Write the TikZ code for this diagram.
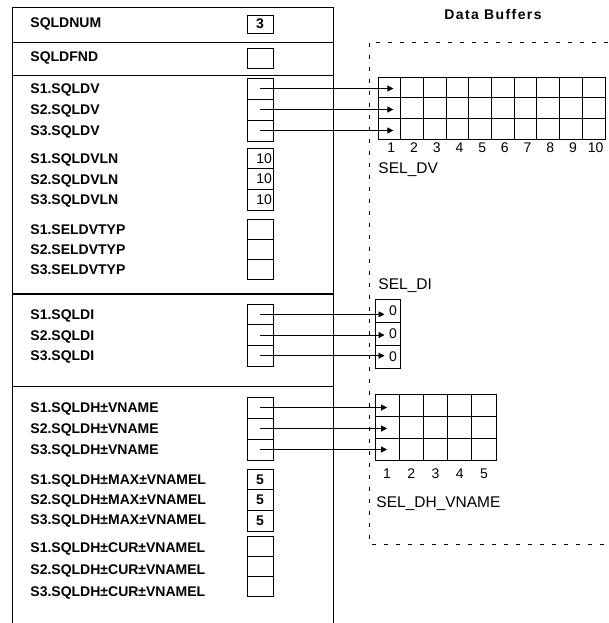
\documentclass[tikz,border=0pt]{standalone}
\usepackage{fontspec}
\setmainfont{Liberation Sans}
\usetikzlibrary{arrows.meta}

\begin{document}
\begin{tikzpicture}[x=1pt,y=-1pt,line width=0.9pt]
\tikzstyle{field}=[anchor=west,inner sep=0pt,text height=10pt,text depth=0pt,font=\bfseries\fontsize{14}{14}\selectfont]
\tikzstyle{slot}=[draw,minimum width=26pt,minimum height=20.7pt,inner sep=1pt,font=\fontsize{14}{14}\selectfont]
\tikzstyle{slotr}=[slot,text width=24pt,align=right]
\tikzstyle{cell}=[draw,minimum width=22.7pt,minimum height=20.7pt,inner sep=0pt]
\tikzstyle{digit}=[inner sep=0pt,text height=10pt,text depth=0pt,font=\fontsize{14}{14}\selectfont]
\tikzstyle{bufname}=[anchor=west,inner sep=0pt,text height=11pt,text depth=0pt,font=\fontsize{15.5}{15.5}\selectfont]
\tikzstyle{ptr}=[-{Triangle[length=6pt,width=6pt]},line width=0.8pt]

\useasboundingbox (0,0) rectangle (608,623);

% descriptor area
\draw (12,623) -- (12,7) -- (333,7) -- (333,623);
\draw (12,42) -- (333,42);
\draw (12,75) -- (333,75);
\draw[line width=2.2pt] (12,294) -- (333,294);
\draw (12,386) -- (333,386);

\node[field] at (30,23) {SQLDNUM};
\node[slot,minimum height=18pt,font=\bfseries\fontsize{14}{14}\selectfont] (sqldnum) at (260,24) {3};
\node[field] at (30,57) {SQLDFND};
\node[slot,minimum height=20pt] (sqldfnd) at (260,58) {};

\foreach \i in {1,2,3} {
  \node[field] at (30,{78+21*(\i-0.5)}) {S\i.SQLDV};
  \node[slot,minimum height=21pt] (sqldv\i) at (260,{78+21*(\i-0.5)}) {};
  \node[field] at (30,{148+20.7*(\i-0.5)}) {S\i.SQLDVLN};
  \node[slotr] (sqldvln\i) at (260,{148+20.7*(\i-0.5)}) {10};
  \node[field] at (30,{219+20*(\i-0.5)}) {S\i.SELDVTYP};
  \node[slot,minimum height=20pt] (seldvtyp\i) at (260,{219+20*(\i-0.5)}) {};
  \node[field] at (30,{304+20.7*(\i-0.5)}) {S\i.SQLDI};
  \node[slot] (sqldi\i) at (260,{304+20.7*(\i-0.5)}) {};
  \node[field] at (30,{397+21*(\i-0.5)}) {S\i.SQLDH±VNAME};
  \node[slot,minimum height=21pt] (sqldhv\i) at (260,{397+21*(\i-0.5)}) {};
  \node[field] at (30,{469+20.3*(\i-0.5)}) {S\i.SQLDH±MAX±VNAMEL};
  \node[slot,font=\bfseries\fontsize{14}{14}\selectfont] (sqldhmax\i) at (260,{469+20.7*(\i-0.5)}) {5};
  \node[field] at (30,{536+22*(\i-0.5)}) {S\i.SQLDH±CUR±VNAMEL};
  \node[slot,minimum height=20.3pt] (sqldhcur\i) at (260,{536+20.3*(\i-0.5)}) {};
}

% data buffers
\node[font=\bfseries\fontsize{14}{14}\selectfont\addfontfeature{LetterSpace=10}] (title) at (493,14) {Data Buffers};
\draw[dash pattern=on 4pt off 8pt] (608,42) -- (369,42) -- (369,544) -- (608,544);

\foreach \r in {1,2,3}
  \foreach \c in {1,...,10}
    \node[cell] (seldv\r-\c) at ({378+22.7*(\c-0.5)},{77+20.7*(\r-0.5)}) {};
\foreach \c in {1,...,10}
  \node[digit] at ({380+22.7*(\c-0.5)},147) {\c};
\node[bufname] (seldv) at (378,168) {SEL\_DV};

\node[bufname] (seldi) at (378,284) {SEL\_DI};
\foreach \i in {1,2,3} {
  \node[cell,minimum width=25pt,minimum height=23pt] (seldi\i) at (387.5,{299+23*(\i-0.5)}) {};
  \node[digit,anchor=east] at ([xshift=-3pt]seldi\i.east) {0};
}

\foreach \r in {1,2,3}
  \foreach \c in {1,...,5}
    \node[cell,minimum width=24.2pt,minimum height=22.3pt] (seldh\r-\c) at ({375+24.2*(\c-0.5)},{394+22.3*(\r-0.5)}) {};
\foreach \c in {1,...,5}
  \node[digit] at ({375+24.2*(\c-0.5)},473) {\c};
\node[bufname] (seldhname) at (376,502) {SEL\_DH\_VNAME};

% pointers
\foreach \i in {1,2,3} {
  \draw[ptr] (sqldv\i.center) -- ([xshift=4pt]sqldv\i -| seldv\i-1.center);
  \draw[ptr] (sqldi\i.center) -- ([xshift=-3pt]sqldi\i -| seldi\i.center);
  \draw[ptr] (sqldhv\i.center) -- (sqldhv\i -| seldh\i-1.center);
}
\end{tikzpicture}
\end{document}
